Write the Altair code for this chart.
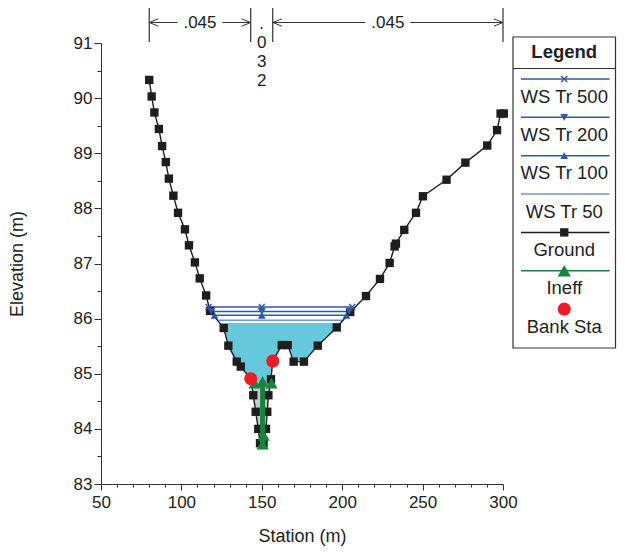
import altair as alt
import pandas as pd
import numpy as np

FONT = "Liberation Sans"

# ---------------- data ----------------
ground_x = [80.0, 81.5, 83.2, 86.0, 88.0, 90.3, 92.2, 95.0, 97.9, 102.2,
            104.7, 108.4, 111.4, 115.4, 117.8, 126.3, 129.2, 134.4, 136.9, 143.1,
            144.7, 146.2, 147.8, 148.9, 151.1, 152.6, 153.4, 154.1, 155.7, 156.8,
            162.4, 166.1, 169.8, 176.2, 184.8, 196.6, 205.0, 214.8, 223.5, 229.5,
            232.6, 233.4, 238.6, 245.9, 250.2, 264.9, 276.6, 290.2, 296.3, 298.5, 300.5]
ground_y = [90.33, 90.03, 89.74, 89.44, 89.13, 88.84, 88.54, 88.23, 87.92, 87.62,
            87.33, 87.02, 86.73, 86.42, 86.14, 85.83, 85.51, 85.22, 85.13, 84.91,
            84.61, 84.31, 84.00, 83.74, 83.74, 84.00, 84.31, 84.61, 84.90, 85.23,
            85.52, 85.52, 85.22, 85.22, 85.51, 85.84, 86.12, 86.41, 86.72, 87.01,
            87.31, 87.36, 87.61, 87.92, 88.22, 88.52, 88.83, 89.14, 89.42, 89.72, 89.72]

bank_x = [143.1, 156.8]
bank_y = [84.91, 85.23]

ws_names = ["WS Tr 500", "WS Tr 200", "WS Tr 100", "WS Tr 50"]
ws_elev = [86.21, 86.13, 86.06, 85.97]
ws_left = [116.9, 118.6, 120.6, 122.8]
ws_right = [206.2, 204.4, 202.6, 200.5]
ws_mid = 150.0

water_fill_level = 85.92
ineff_fill_level = 84.85

ineff_line_x = [150.5, 150.5]
ineff_line_y = [84.85, 83.72]
ineff_tri_x = [145.5, 150.5, 156.0, 150.5, 151.2]
ineff_tri_y = [84.83, 84.86, 84.83, 83.72, 83.88]

n_values = [".045", ".032", ".045"]
n_bounds = [80.0, 143.1, 156.8, 300.0]

legend_names = ws_names + ["Ground", "Ineff", "Bank Sta"]

# ---------------- styles ----------------
BLUE = "#2f56a8"
BLUE_LIGHT = "#7394d4"
ws_colors = [BLUE, BLUE, BLUE, BLUE_LIGHT]
CYAN = "#66c9db"
GRAY = "#c9c9c9"
BLACK = "#1e1e1e"
GREEN = "#15843c"
RED = "#ee1c24"
XPATH = "M-1,-1L1,1M-1,1L1,-1"

W, H = 402, 441
XMIN, XMAX, YMIN, YMAX = 50, 300, 83, 91
xs = alt.Scale(domain=[XMIN, XMAX], nice=False, zero=False)
ys = alt.Scale(domain=[YMIN, YMAX], nice=False, zero=False)
px_per_x = W / (XMAX - XMIN)


def submerged(level, lo, hi):
    pts = []
    for i in range(len(ground_x) - 1):
        x0, y0, x1, y1 = ground_x[i], ground_y[i], ground_x[i + 1], ground_y[i + 1]
        if lo <= x0 <= hi and y0 <= level:
            pts.append((x0, y0))
        if (y0 - level) * (y1 - level) < 0:
            xc = x0 + (level - y0) * (x1 - x0) / (y1 - y0)
            if lo <= xc <= hi:
                pts.append((xc, level))
    pts.sort()
    return pd.DataFrame({"x": [p[0] for p in pts], "y": [p[1] for p in pts], "y2": level})


ground_df = pd.DataFrame({"x": ground_x, "y": ground_y, "i": range(len(ground_x))})
water_df = submerged(water_fill_level, ws_left[0], ws_right[0])
ineff_df = submerged(ineff_fill_level, bank_x[0], bank_x[1])

ws_df = pd.DataFrame({"name": ws_names, "y": ws_elev, "x": ws_left, "x2": ws_right, "color": ws_colors})
ws_mk = []
for k, shp in enumerate(["x", "down", "up"]):
    for xx in [ws_left[k], ws_mid, ws_right[k]]:
        ws_mk.append({"x": xx, "y": ws_elev[k], "kind": shp})
ws_mk = pd.DataFrame(ws_mk)

bank_df = pd.DataFrame({"x": bank_x, "y": bank_y})
ineff_line_df = pd.DataFrame({"x": ineff_line_x, "y": ineff_line_y})
ineff_tri_df = pd.DataFrame({"x": ineff_tri_x, "y": ineff_tri_y})

# ---------------- axes ----------------
x_axis = alt.Axis(
    values=list(range(XMIN, XMAX + 1, 10)),
    labelExpr="datum.value % 50 == 0 ? format(datum.value, 'd') : ''",
    tickSize={"condition": {"test": "datum.value % 50 == 0", "value": 6}, "value": 3},
    title="Station (m)", grid=False, labelFlush=False, labelOverlap=False,
    labelPadding=4, titlePadding=17, domainColor="#333", tickColor="#333",
    labelColor="#222", titleColor="#222", labelFontSize=17, titleFontSize=18,
    titleFontWeight="normal", labelFont=FONT, titleFont=FONT,
)
y_axis = alt.Axis(
    values=[YMIN + 0.5 * k for k in range(17)],
    labelExpr="datum.value % 1 == 0 ? format(datum.value, 'd') : ''",
    tickSize={"condition": {"test": "datum.value % 1 == 0", "value": 7}, "value": 4},
    title="Elevation (m)", grid=False, labelFlush=False, labelOverlap=False,
    labelPadding=2, titlePadding=47, domainColor="#333", tickColor="#333",
    labelColor="#222", titleColor="#222", labelFontSize=17, titleFontSize=18,
    titleFontWeight="normal", labelFont=FONT, titleFont=FONT,
)

X = lambda f="x", **kw: alt.X(f"{f}:Q", scale=xs, axis=None, **kw)
Y = lambda f="y", **kw: alt.Y(f"{f}:Q", scale=ys, axis=None, **kw)

base = alt.Chart(ground_df).mark_line(stroke=BLACK, strokeWidth=1.4).encode(
    x=alt.X("x:Q", scale=xs, axis=x_axis), y=alt.Y("y:Q", scale=ys, axis=y_axis), order="i:Q")

water = alt.Chart(water_df).mark_area(color=CYAN, opacity=1).encode(x=X(), y=Y(), y2="y2:Q")
ineff_fill = alt.Chart(ineff_df).mark_area(color=GRAY, opacity=1).encode(x=X(), y=Y(), y2="y2:Q")
ws_lines = alt.Chart(ws_df).mark_rule(strokeWidth=1.6).encode(
    x=X(), x2="x2:Q", y=Y(), color=alt.Color("color:N", scale=None))
ground_pts = alt.Chart(ground_df).mark_point(shape="square", filled=True, size=70, color=BLACK, opacity=1).encode(x=X(), y=Y())
ineff_line = alt.Chart(ineff_line_df).mark_line(stroke=GREEN, strokeWidth=5).encode(x=X(), y=Y())
ineff_tri = alt.Chart(ineff_tri_df).mark_point(shape="triangle-up", filled=True, size=150, color=GREEN, opacity=1).encode(x=X(), y=Y())
bank = alt.Chart(bank_df).mark_point(shape="circle", filled=True, size=170, color=RED, opacity=1).encode(x=X(), y=Y())
mk_x = alt.Chart(ws_mk[ws_mk.kind == "x"]).mark_point(shape=XPATH, filled=False, size=36, color=BLUE, strokeWidth=1.3, opacity=1).encode(x=X(), y=Y())
mk_d = alt.Chart(ws_mk[ws_mk.kind == "down"]).mark_point(shape="triangle-down", filled=True, size=60, color=BLUE, opacity=1).encode(x=X(), y=Y())
mk_u = alt.Chart(ws_mk[ws_mk.kind == "up"]).mark_point(shape="triangle-up", filled=True, size=60, color=BLUE, opacity=1).encode(x=X(), y=Y())

# ---------------- Manning's n annotation ----------------
ARROW_Y = -20.5
bars = alt.Chart(pd.DataFrame({"x": n_bounds})).mark_rule(color="#333", strokeWidth=1.2).encode(
    x=X(), y=alt.value(-35), y2=alt.value(-1))
segs, heads_l, heads_r, labels = [], [], [], []
gap = (18.5 + 4) / px_per_x
for k in [0, 2]:
    a, b = n_bounds[k], n_bounds[k + 1]
    m = (a + b) / 2
    segs += [{"x": a, "x2": m - gap}, {"x": m + gap, "x2": b}]
    heads_l.append({"x": a})
    heads_r.append({"x": b})
    labels.append({"x": m, "t": n_values[k]})
arrow_lines = alt.Chart(pd.DataFrame(segs)).mark_rule(color="#333", strokeWidth=1).encode(
    x=X(), x2="x2:Q", y=alt.value(ARROW_Y))
arrow_l = alt.Chart(pd.DataFrame(heads_l)).mark_point(shape="M0,0L1,-0.4M0,0L1,0.4", filled=False, size=324, color="#333", strokeWidth=1, opacity=1).encode(
    x=X(), y=alt.value(ARROW_Y))
arrow_r = alt.Chart(pd.DataFrame(heads_r)).mark_point(shape="M0,0L-1,-0.4M0,0L-1,0.4", filled=False, size=324, color="#333", strokeWidth=1, opacity=1).encode(
    x=X(), y=alt.value(ARROW_Y))
n_text = alt.Chart(pd.DataFrame(labels)).mark_text(font=FONT, fontSize=17, color="#222", baseline="middle").encode(
    x=X(), y=alt.value(ARROW_Y), text="t:N")
mid_df = pd.DataFrame({"x": [(n_bounds[1] + n_bounds[2]) / 2], "t": ["\n".join(list(n_values[1]))]})
n_mid = alt.Chart(mid_df).mark_text(font=FONT, fontSize=17, color="#222", baseline="top", lineBreak="\n", lineHeight=19).encode(
    x=X(), y=alt.value(-27.5), text="t:N")

# ---------------- legend ----------------
LX0, LX1 = 412, 514.5
LCX = (LX0 + LX1) / 2
STEP = 38.35
leg = []
for i, nm in enumerate(legend_names):
    ly = 36 + STEP * i
    leg.append({"name": nm, "ly": ly, "ty": ly + 17.5, "i": i})
leg = pd.DataFrame(leg)
line_colors = ws_colors + [BLACK, GREEN]
leg_lines = leg.iloc[:6].copy()
leg_lines["color"] = line_colors
leg_lines["lx"] = LX0 + 8
leg_lines["lx2"] = LX1 - 6

LXs = alt.X("lx:Q", scale=None, axis=None)
box = alt.Chart(pd.DataFrame({"a": [0]})).mark_rect(fill="white", stroke="#333", strokeWidth=1.2).encode(
    x=alt.value(LX0), x2=alt.value(LX1), y=alt.value(-6), y2=alt.value(305))
sep = alt.Chart(pd.DataFrame({"a": [0]})).mark_rule(color="#333", strokeWidth=1).encode(
    x=alt.value(LX0), x2=alt.value(LX1), y=alt.value(25.5))
leg_title = alt.Chart(pd.DataFrame({"t": ["Legend"]})).mark_text(
    font=FONT, fontSize=18.5, fontWeight="bold", color="#222", baseline="middle").encode(
    x=alt.value(LCX), y=alt.value(9), text="t:N")
leg_l = alt.Chart(leg_lines).mark_rule(strokeWidth=1.5).encode(
    x=LXs, x2="lx2:Q", y=alt.Y("ly:Q", scale=None, axis=None), color=alt.Color("color:N", scale=None))
leg_text = alt.Chart(leg).mark_text(font=FONT, fontSize=18.5, color="#222", baseline="middle").encode(
    x=alt.value(LCX), y=alt.Y("ty:Q", scale=None, axis=None), text="name:N")


def leg_marker(idx, **mk):
    d = leg.iloc[[idx]]
    return alt.Chart(d).mark_point(opacity=1, **mk).encode(
        x=alt.value(LCX), y=alt.Y("ly:Q", scale=None, axis=None))


leg_mk = [
    leg_marker(0, shape=XPATH, filled=False, size=36, color=BLUE, strokeWidth=1.3),
    leg_marker(1, shape="triangle-down", filled=True, size=60, color=BLUE),
    leg_marker(2, shape="triangle-up", filled=True, size=60, color=BLUE),
    leg_marker(4, shape="square", filled=True, size=70, color=BLACK),
    leg_marker(5, shape="triangle-up", filled=True, size=170, color=GREEN),
    leg_marker(6, shape="circle", filled=True, size=170, color=RED),
]

chart = alt.layer(
    water, ineff_fill, ws_lines, base, ground_pts, ineff_line, ineff_tri, bank,
    mk_x, mk_d, mk_u,
    bars, arrow_lines, arrow_l, arrow_r, n_text, n_mid,
    box, sep, leg_title, leg_l, leg_text, *leg_mk,
).resolve_scale(x="independent", y="independent").properties(
    width=W, height=H,
    autosize=alt.AutoSizeParams(type="none"),
    padding={"left": 93, "top": 35, "right": 114, "bottom": 65},
).configure_view(stroke=None)

chart.save("out.html", embed_options={"renderer": "svg", "actions": False})
